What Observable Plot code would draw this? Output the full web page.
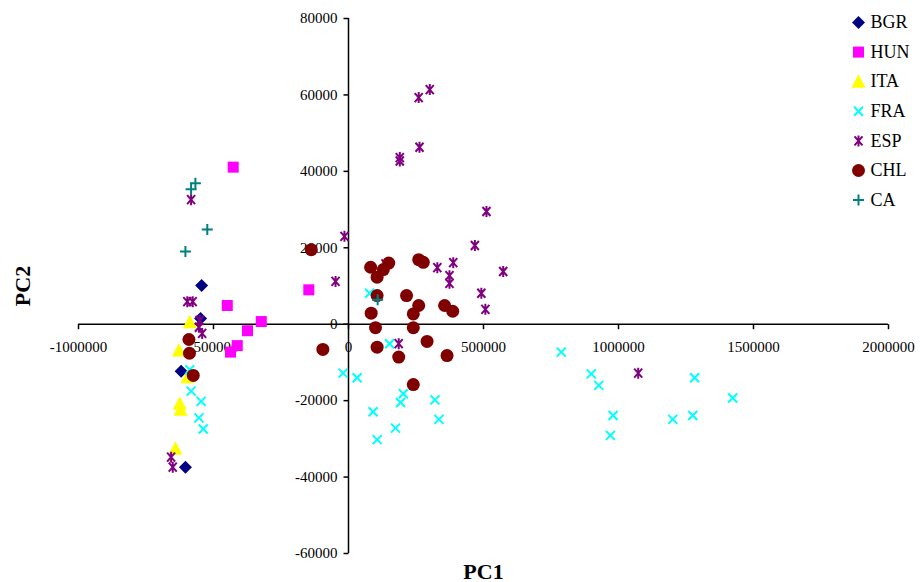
<!DOCTYPE html>
<html><head><meta charset="utf-8">
<script src="https://cdn.jsdelivr.net/npm/d3@7"></script>
<script src="https://cdn.jsdelivr.net/npm/@observablehq/plot@0.6"></script>
<style>body{margin:0;background:#fff}</style>
</head><body><div id="chart"></div>
<script>
const countries = ["BGR","HUN","ITA","FRA","ESP","CHL","CA"];
const colors = ["#000080","#FF00FF","#FFFF00","#00FFFF","#800080","#800000","#008080"];

const BGR = [[-544000,10100],[-548000,1500],[-620000,-12300],[-604000,-37400]];
const HUN = [[-427000,41100],[-449000,4900],[-323000,700],[-374000,-1700],[-412000,-5600],[-437000,-7300],[-147000,9000]];
const ITA = [[-588000,500],[-628000,-6900],[-597000,-13900],[-625000,-20800],[-622000,-22400],[-641000,-32600]];
const FRA = [[-588000,-11900],[-583000,-17500],[-546000,-20200],[-554000,-24500],[-538000,-27400],
  [78000,8100],[152000,-5100],[-20000,-12800],[32000,-14000],[91000,-22900],[106000,-30200],[203000,-18200],[193000,-20500],[174000,-27200],[320000,-19800],[335000,-24900],
  [788000,-7300],[899000,-13000],[927000,-16000],[980000,-23900],[970000,-29100],[1201000,-24900],[1275000,-23900],[1282000,-14000],[1423000,-19300]];
const ESP = [[-583000,32600],[-597000,5900],[-577000,5900],[-551000,1000],[-554000,-800],[-542000,-2400],[-657000,-34800],[-651000,-37400],
  [-15000,23000],[190000,43600],[190000,42700],[263000,46300],[260000,59300],[301000,61400],[511000,29500],[-48000,11200],[329000,14800],[388000,16100],[374000,12700],[374000,10700],[468000,20600],[492000,8100],[507000,3900],[186000,-5100],[137000,15800],[573000,13800],[1073000,-12800]];
const CHL = [[-138000,19500],[-95000,-6600],[82000,14900],[106000,12300],[129000,14300],[149000,16000],[106000,7500],[84000,2900],[100000,-900],[106000,-6000],[186000,-8600],[215000,7500],[260000,4900],[240000,2700],[240000,-900],[260000,16900],[277000,16200],[291000,-4500],[356000,4900],[386000,3400],[365000,-8200],[240000,-15800],[-591000,-4000],[-589000,-7600],[-575000,-13400]];
const CA = [[-567000,36900],[-583000,35300],[-523000,24800],[-604000,19000],[108000,6400]];

const xTicks = [-1000000,-500000,0,500000,1000000,1500000,2000000];
const yTicks = [-60000,-40000,-20000,0,20000,40000,60000,80000];
const xTitle = "PC1", yTitle = "PC2";

const symDiamond = {draw(c){c.moveTo(0,-6.5);c.lineTo(6.5,0);c.lineTo(0,6.5);c.lineTo(-6.5,0);c.closePath();}};
const symSquare = {draw(c){c.rect(-5.5,-5.5,11,11);}};
const symTriangle = {draw(c){c.moveTo(0,-7.5);c.lineTo(7,6);c.lineTo(-7,6);c.closePath();}};
const symCircle = {draw(c){c.moveTo(6.5,0);c.arc(0,0,6.5,0,2*Math.PI);}};
const symX = {draw(c){c.moveTo(-4.5,-4.5);c.lineTo(4.5,4.5);c.moveTo(4.5,-4.5);c.lineTo(-4.5,4.5);}};
const symStar = {draw(c){c.moveTo(-4,-4.5);c.lineTo(4,4.5);c.moveTo(4,-4.5);c.lineTo(-4,4.5);c.moveTo(0,-5.5);c.lineTo(0,5.5);}};
const symPlus = {draw(c){c.moveTo(-5.5,0);c.lineTo(5.5,0);c.moveTo(0,-5.5);c.lineTo(0,5.5);}};
const tickDown = {draw(c){c.moveTo(0,0);c.lineTo(0,5);}};
const tickLeft = {draw(c){c.moveTo(0,0);c.lineTo(-5,0);}};

const seriesData = [BGR,HUN,ITA,FRA,ESP,CHL,CA];
const seriesSym = [symDiamond,symSquare,symTriangle,symX,symStar,symCircle,symPlus];
const seriesFilled = [true,true,true,false,false,true,false];

function styleFor(i){
  return seriesFilled[i]
    ? {fill: colors[i], stroke: "none"}
    : {fill: "none", stroke: colors[i], strokeWidth: 2};
}

const marks = [
  Plot.ruleY([0], {stroke:"black", strokeWidth:1.5}),
  Plot.ruleX([0], {stroke:"black", strokeWidth:1.5}),
  Plot.dot(xTicks, {x:d=>d, y:0, symbol:tickDown, fill:"none", stroke:"black", strokeWidth:1.5}),
  Plot.dot(yTicks, {x:0, y:d=>d, symbol:tickLeft, fill:"none", stroke:"black", strokeWidth:1.5}),
  Plot.text(xTicks, {x:d=>d, y:0, text:d=>String(d), dy:23, fontSize:15, fill:"black"}),
  Plot.text(yTicks, {x:0, y:d=>d, text:d=>String(d), dx:-11, textAnchor:"end", fontSize:15, fill:"black"})
];
seriesData.forEach((data,i)=>{
  marks.push(Plot.dot(data, {x:d=>d[0], y:d=>d[1], symbol:seriesSym[i], ...styleFor(i)}));
});
countries.forEach((name,i)=>{
  marks.push(Plot.dot([name], {frameAnchor:"top-right", dx:-30, dy:4 + i*29.6, symbol:seriesSym[i], ...styleFor(i)}));
  marks.push(Plot.text([name], {frameAnchor:"top-right", dx:-18, dy:4 + i*29.6, text:d=>d, textAnchor:"start", lineAnchor:"middle", fontSize:18, fill:"black"}));
});
marks.push(Plot.text([xTitle], {frameAnchor:"bottom", dy:18, lineAnchor:"middle", fontSize:22, fontWeight:"bold", fill:"black"}));
marks.push(Plot.text([yTitle], {frameAnchor:"left", dx:-56, rotate:-90, textAnchor:"middle", lineAnchor:"middle", fontSize:22, fontWeight:"bold", fill:"black"}));

const chart = Plot.plot({
  width:920, height:582,
  marginLeft:78, marginRight:32, marginTop:18, marginBottom:29,
  x:{domain:[-1000000,2000000], axis:null},
  y:{domain:[-60000,80000], axis:null},
  style:{fontFamily:"'Liberation Serif','Times New Roman',serif", background:"white", overflow:"visible"},
  marks
});
document.getElementById("chart").appendChild(chart);
</script>
</body></html>
